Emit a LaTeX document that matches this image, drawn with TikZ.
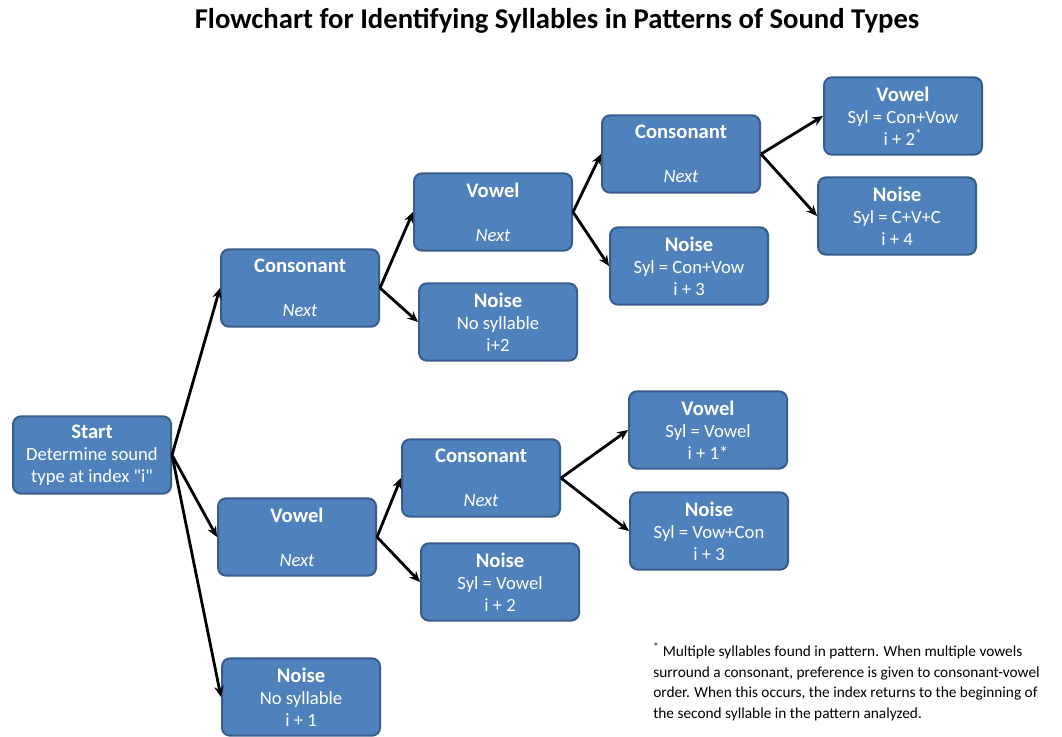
\documentclass[tikz,border=0pt]{standalone}
\usepackage{fontspec}
\setmainfont{Carlito}[Ligatures=TeXOff]
\usepackage{xcolor}
\usetikzlibrary{arrows.meta}

\definecolor{boxfill}{HTML}{4F81BD}
\definecolor{boxline}{HTML}{385D8A}

\newcommand{\boxhead}[1]{{\bfseries\fontsize{15.5}{16.5}\selectfont #1}}

\begin{document}
\begin{tikzpicture}[x=0.75pt, y=-0.75pt,
  box/.style={draw=boxline, line width=1.5pt, fill=boxfill, rounded corners=6pt,
    text=white, align=center, inner sep=0pt,
    minimum width=118.5pt, minimum height=58pt,
    font=\fontsize{14}{16.5}\selectfont},
  link/.style={-{Stealth[length=8pt,width=7pt]}, line width=2.1pt}]

\useasboundingbox (0,0) rectangle (1062,736);

\node[font=\bfseries\fontsize{21.5}{24}\selectfont] (title) at (557,21)
  {Flowchart for Identifying Syllables in Patterns of Sound Types};

% first level
\node[box] (start) at (92,455) {\boxhead{Start}\\Determine sound\\type at index "i"};

\node[box] (con1) at (300,288) {\boxhead{Consonant}\\[16.5pt]\textit{Next}};
\node[box] (vow1) at (297,537) {\boxhead{Vowel}\\[16.5pt]\textit{Next}};
\node[box] (noi1) at (301,697) {\boxhead{Noise}\\No syllable\\i + 1};

% consonant branch
\node[box] (vow2) at (493,212) {\boxhead{Vowel}\\[16.5pt]\textit{Next}};
\node[box] (noi2) at (498,322) {\boxhead{Noise}\\No syllable\\i+2};

\node[box] (con2) at (681,154) {\boxhead{Consonant}\\[16.5pt]\textit{Next}};
\node[box] (noi3) at (689,266) {\boxhead{Noise}\\Syl = Con+Vow\\i + 3};

\node[box] (vow3) at (903,116) {\boxhead{Vowel}\\Syl = Con+Vow\\i + 2\textsuperscript{*}};
\node[box] (noi4) at (897,216) {\boxhead{Noise}\\Syl = C+V+C\\i + 4};

% vowel branch
\node[box] (con3) at (481,478) {\boxhead{Consonant}\\[16.5pt]\textit{Next}};
\node[box] (noi5) at (500,582) {\boxhead{Noise}\\Syl = Vowel\\i + 2};

\node[box] (vow4) at (708,430) {\boxhead{Vowel}\\Syl = Vowel\\i + 1*};
\node[box] (noi6) at (709,531) {\boxhead{Noise}\\Syl = Vow+Con\\i + 3};

\draw[link] (start.east) -- (con1.west);
\draw[link] (start.east) -- (vow1.west);
\draw[link] (start.east) -- (noi1.west);

\draw[link] (con1.east) -- (vow2.west);
\draw[link] (con1.east) -- (noi2.west);
\draw[link] (vow2.east) -- (con2.west);
\draw[link] (vow2.east) -- (noi3.west);
\draw[link] (con2.east) -- (vow3.west);
\draw[link] (con2.east) -- (noi4.west);

\draw[link] (vow1.east) -- (con3.west);
\draw[link] (vow1.east) -- (noi5.west);
\draw[link] (con3.east) -- (vow4.west);
\draw[link] (con3.east) -- (noi6.west);

% footnote
\node[anchor=north west, align=left, inner sep=0pt,
  font=\fontsize{11.5}{15.4}\selectfont] (note) at (653,643)
  {\textsuperscript{*} Multiple syllables found in pattern. When multiple vowels\\
   surround a consonant, preference is given to consonant-vowel\\
   order. When this occurs, the index returns to the beginning of\\
   the second syllable in the pattern analyzed.};

\end{tikzpicture}
\end{document}
